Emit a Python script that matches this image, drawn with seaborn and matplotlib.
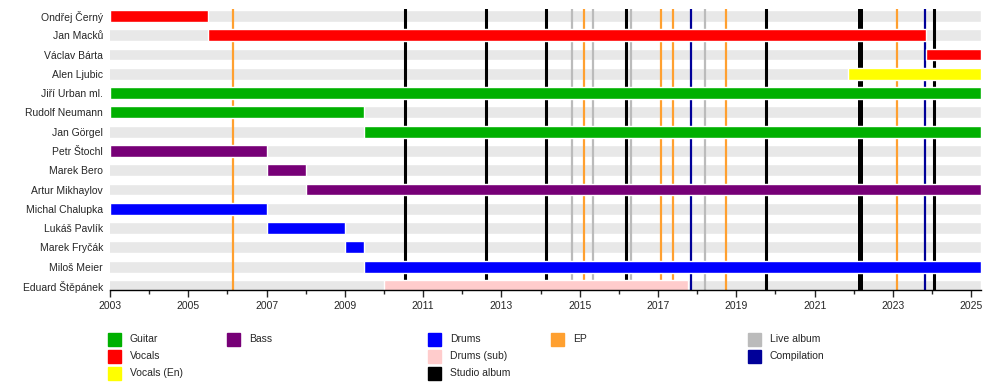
import numpy as np
import pandas as pd
import seaborn as sns
import matplotlib.pyplot as plt
from matplotlib.patches import Rectangle
from matplotlib.ticker import MultipleLocator

# Members, roles and active periods
members = [
    "Ondřej Černý", "Jan Macků", "Václav Bárta", "Alen Ljubic",
    "Jiří Urban ml.", "Rudolf Neumann", "Jan Görgel", "Petr Štochl",
    "Marek Bero", "Artur Mikhaylov", "Michal Chalupka", "Lukáš Pavlík",
    "Marek Fryčák", "Miloš Meier", "Eduard Štěpánek",
]
roles = [
    "Vocals", "Vocals", "Vocals", "Vocals (En)",
    "Guitar", "Guitar", "Guitar", "Bass",
    "Bass", "Bass", "Drums", "Drums",
    "Drums", "Drums", "Drums (sub)",
]
starts = [2003.0, 2005.5, 2023.85, 2021.85, 2003.0, 2003.0, 2009.5, 2003.0,
          2007.0, 2008.0, 2003.0, 2007.0, 2009.0, 2009.5, 2010.0]
ends = [2005.5, 2023.85, 2025.25, 2025.25, 2025.25, 2009.5, 2025.25, 2007.0,
        2008.0, 2025.25, 2007.0, 2009.0, 2009.5, 2025.25, 2017.77]

# Releases
studio_albums = [2010.54, 2012.61, 2014.14, 2016.18, 2019.76, 2022.16, 2024.05]
eps = [2006.14, 2015.11, 2017.08, 2017.38, 2018.74, 2023.1]
live_albums = [2014.8, 2015.34, 2016.31, 2018.2]
compilations = [2017.84, 2023.82]

colors = {
    "Guitar": "#00b000",
    "Vocals": "#ff0000",
    "Vocals (En)": "#ffff00",
    "Bass": "#770077",
    "Drums": "#0000ff",
    "Drums (sub)": "#ffcccc",
    "Studio album": "#000000",
    "EP": "#ffa030",
    "Live album": "#bbbbbb",
    "Compilation": "#000099",
}

legend_cols = [
    ["Guitar", "Vocals", "Vocals (En)"],
    ["Bass"],
    ["Drums", "Drums (sub)", "Studio album"],
    ["EP"],
    ["Live album", "Compilation"],
]
legend_x = [108, 227, 428, 551, 748]

START, END = 2003, 2025.25

sns.set_style("white")
plt.rcParams["font.family"] = ["Liberation Sans", "DejaVu Sans"]

fig = plt.figure(figsize=(10, 3.9), dpi=100)
ax = fig.add_axes([0.11, 1 - 290 / 390, 0.871, 281 / 390])

# grey background bands
bg = pd.DataFrame({"member": members, "end": END})
sns.barplot(data=bg, x="end", y="member", orient="h", color="#e8e8e8",
            saturation=1, width=0.62, ax=ax, zorder=1)

# release lines
for xs, key, lw in [(live_albums, "Live album", 1.6), (eps, "EP", 1.6),
                    (compilations, "Compilation", 1.6), (studio_albums, "Studio album", 2.2)]:
    for x in xs:
        # the 2022 studio line is drawn heavier in the original
        w = 3.6 if (key == "Studio album" and x == 2022.16) else lw
        ax.axvline(x, color=colors[key], lw=w, zorder=2)

# member bars
ypos = np.arange(len(members))
widths = np.array(ends) - np.array(starts)
ax.barh(ypos, widths, left=starts, height=0.62,
        color=[colors[r] for r in roles], zorder=3)

ax.set_xlim(START, END)
ax.set_ylim(14.21, -0.36)
ax.xaxis.set_minor_locator(MultipleLocator(1))
ax.set_xticks(np.arange(2003, 2026, 2))
ax.tick_params(axis="x", which="major", bottom=True, length=5, width=1, labelsize=7.5, pad=3)
ax.tick_params(axis="x", which="minor", bottom=True, length=3, width=1)
ax.tick_params(axis="y", length=0, labelsize=7.5, pad=5)
ax.set_xlabel("")
ax.set_ylabel("")
for s in ["top", "right", "left"]:
    ax.spines[s].set_visible(False)
ax.spines["bottom"].set_color("black")
ax.spines["bottom"].set_linewidth(1)
ax.spines["bottom"].set_zorder(5)

# legend
for col, lx in zip(legend_cols, legend_x):
    for i, label in enumerate(col):
        cy = 339 + 17 * i
        fig.add_artist(Rectangle((lx / 1000, 1 - (cy + 6.5) / 390), 13 / 1000, 13 / 390,
                                 transform=fig.transFigure, color=colors[label]))
        fig.text((lx + 22) / 1000, 1 - cy / 390, label, fontsize=7.5, va="center", ha="left")

fig.savefig("out.png", dpi=100)
